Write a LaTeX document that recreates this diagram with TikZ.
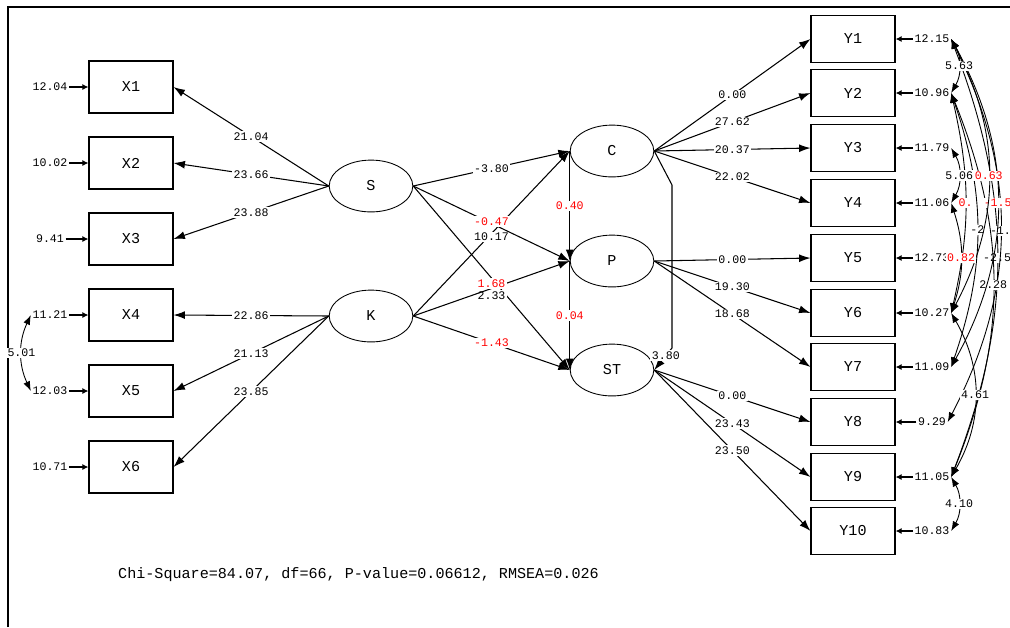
\documentclass[tikz,border=0pt]{standalone}
\usepackage{fontspec}
\setmainfont{Liberation Mono}
\usetikzlibrary{positioning,arrows.meta,shapes.geometric}
\tikzset{
obs/.style={draw, line width=0.8pt, minimum width=47.6pt, minimum height=29.5pt, inner sep=0pt, font=\fontsize{8.6}{10}\selectfont},
ybox/.style={obs, minimum height=26.6pt},
lat/.style={draw, ellipse, line width=0.5pt, minimum width=47.6pt, minimum height=29.5pt, inner sep=0pt, font=\fontsize{8.6}{10}\selectfont},
num/.style={font=\fontsize{6.6}{7}\selectfont, inner sep=0.8pt},
lbl/.style={num, fill=white},
redlbl/.style={lbl, text=red},
pth/.style={-{Latex[length=6.5pt,width=4.5pt]}, line width=0.6pt},
errarr/.style={-{Latex[length=3.5pt,width=3.5pt]}, line width=1.5pt},
cov/.style={{Latex[length=5.5pt,width=4pt]}-{Latex[length=5.5pt,width=4pt]}, line width=0.5pt}
}
\begin{document}
\begin{tikzpicture}[x=0.02cm, y=-0.02cm]
\useasboundingbox (0,0) rectangle (1010,627);
\draw[line width=1.2pt] (8,627) -- (8,7) -- (1010,7);

% exogenous side
\node[obs] (x1) at (131,87) {X1};
\node[obs] (x2) at (131,163) {X2};
\node[obs] (x3) at (131,239) {X3};
\node[obs] (x4) at (131,315) {X4};
\node[obs] (x5) at (131,391) {X5};
\node[obs] (x6) at (131,467) {X6};
\node[num] (ex1) at (50,87) {12.04};
\node[num] (ex2) at (50,163) {10.02};
\node[num] (ex3) at (50,239) {9.41};
\node[num] (ex4) at (50,315) {11.21};
\node[num] (ex5) at (50,391) {12.03};
\node[num] (ex6) at (50,467) {10.71};
\draw[errarr] (ex1.east) -- (x1.west);
\draw[errarr] (ex2.east) -- (x2.west);
\draw[errarr] (ex3.east) -- (x3.west);
\draw[errarr] (ex4.east) -- (x4.west);
\draw[errarr] (ex5.east) -- (x5.west);
\draw[errarr] (ex6.east) -- (x6.west);
\draw[cov] (ex4.west) to[bend right=25] node[lbl]{5.01} (ex5.west);

% latent variables
\node[lat] (s) at (371,186) {S};
\node[lat] (k) at (371,316) {K};
\node[lat] (c) at (612,151) {C};
\node[lat] (p) at (612,261) {P};
\node[lat] (st) at (612,370) {ST};

\draw[pth] (s.west) -- node[lbl]{21.04} (x1.east);
\draw[pth] (s.west) -- node[lbl]{23.66} (x2.east);
\draw[pth] (s.west) -- node[lbl]{23.88} (x3.east);
\draw[pth] (k.west) -- node[lbl]{22.86} (x4.east);
\draw[pth] (k.west) -- node[lbl]{21.13} (x5.east);
\draw[pth] (k.west) -- node[lbl]{23.85} (x6.east);

\draw[pth] (s.east) -- node[lbl, yshift=-10pt]{2.33} (st.west);
\draw[pth] (s.east) -- node[lbl]{-3.80} (c.west);
\draw[pth] (k.east) -- node[lbl, yshift=-2pt]{10.17} (c.west);
\draw[pth] (s.east) -- node[redlbl, yshift=1pt]{-0.47} (p.west);
\draw[pth] (k.east) -- node[redlbl, yshift=3pt]{1.68} (p.west);
\draw[pth] (k.east) -- node[redlbl]{-1.43} (st.west);
\draw[pth] (c.west) -- node[redlbl]{0.40} (p.west);
\draw[pth] (p.west) -- node[redlbl]{0.04} (st.west);
\coordinate (cs1) at (672,185);
\coordinate (cs2) at (672,348);
\draw[pth] (c.east) -- (cs1) -- (cs2) -- node[lbl, pos=0.35]{3.80} (st.east);

% endogenous side
\node[ybox] (y1) at (853,39) {Y1};
\node[ybox] (y2) at (853,93) {Y2};
\node[ybox] (y3) at (853,148) {Y3};
\node[ybox] (y4) at (853,203) {Y4};
\node[ybox] (y5) at (853,258) {Y5};
\node[ybox] (y6) at (853,313) {Y6};
\node[ybox] (y7) at (853,367) {Y7};
\node[ybox] (y8) at (853,422) {Y8};
\node[ybox] (y9) at (853,477) {Y9};
\node[ybox] (y10) at (853,531) {Y10};
\draw[pth] (c.east) -- node[lbl]{0.00} (y1.west);
\draw[pth] (c.east) -- node[lbl]{27.62} (y2.west);
\draw[pth] (c.east) -- node[lbl]{20.37} (y3.west);
\draw[pth] (c.east) -- node[lbl]{22.02} (y4.west);
\draw[pth] (p.east) -- node[lbl]{0.00} (y5.west);
\draw[pth] (p.east) -- node[lbl]{19.30} (y6.west);
\draw[pth] (p.east) -- node[lbl]{18.68} (y7.west);
\draw[pth] (st.east) -- node[lbl]{0.00} (y8.west);
\draw[pth] (st.east) -- node[lbl]{23.43} (y9.west);
\draw[pth] (st.east) -- node[lbl]{23.50} (y10.west);

\node[num] (ey1) at (932,39) {12.15};
\node[num] (ey2) at (932,93) {10.96};
\node[num] (ey3) at (932,148) {11.79};
\node[num] (ey4) at (932,203) {11.06};
\node[num] (ey5) at (932,258) {12.73};
\node[num] (ey6) at (932,313) {10.27};
\node[num] (ey7) at (932,367) {11.09};
\node[num] (ey8) at (932,422) {9.29};
\node[num] (ey9) at (932,477) {11.05};
\node[num] (ey10) at (932,531) {10.83};
\draw[errarr] (ey1.west) -- (y1.east);
\draw[errarr] (ey2.west) -- (y2.east);
\draw[errarr] (ey3.west) -- (y3.east);
\draw[errarr] (ey4.west) -- (y4.east);
\draw[errarr] (ey5.west) -- (y5.east);
\draw[errarr] (ey6.west) -- (y6.east);
\draw[errarr] (ey7.west) -- (y7.east);
\draw[errarr] (ey8.west) -- (y8.east);
\draw[errarr] (ey9.west) -- (y9.east);
\draw[errarr] (ey10.west) -- (y10.east);

% error covariances
\draw[cov] (ey1.east) to[bend left=21] node[lbl]{-2.5} (ey9.east);
\draw[cov] (ey1.east) to[bend left=27] node[lbl]{-1.} (ey8.east);
\draw[cov] (ey2.east) to[bend left=22] node[lbl]{2.28} (ey9.east);
\draw[cov] (ey1.east) to[bend left=29] node[redlbl]{-1.5} (ey7.east);
\draw[cov] (ey2.east) to[bend left=19] node[lbl]{-2} (ey7.east);
\draw[cov] (ey1.east) to[bend left=28] node[redlbl]{0.63} (ey6.east);
\draw[cov] (ey2.east) to[bend left=13] node[redlbl]{0.} (ey6.east);
\draw[cov] (ey4.east) to[bend left=18] node[redlbl]{0.82} (ey6.east);
\draw[cov] (ey6.east) to[bend left=30] node[lbl]{4.61} (ey9.east);
\draw[cov] (ey1.east) to[bend left=30] node[lbl]{5.63} (ey2.east);
\draw[cov] (ey3.east) to[bend left=30] node[lbl]{5.06} (ey4.east);
\draw[cov] (ey9.east) to[bend left=30] node[lbl]{4.10} (ey10.east);

\node[anchor=west, font=\fontsize{8.6}{10}\selectfont] (fit) at (112,575) {Chi-Square=84.07, df=66, P-value=0.06612, RMSEA=0.026};
\end{tikzpicture}
\end{document}
